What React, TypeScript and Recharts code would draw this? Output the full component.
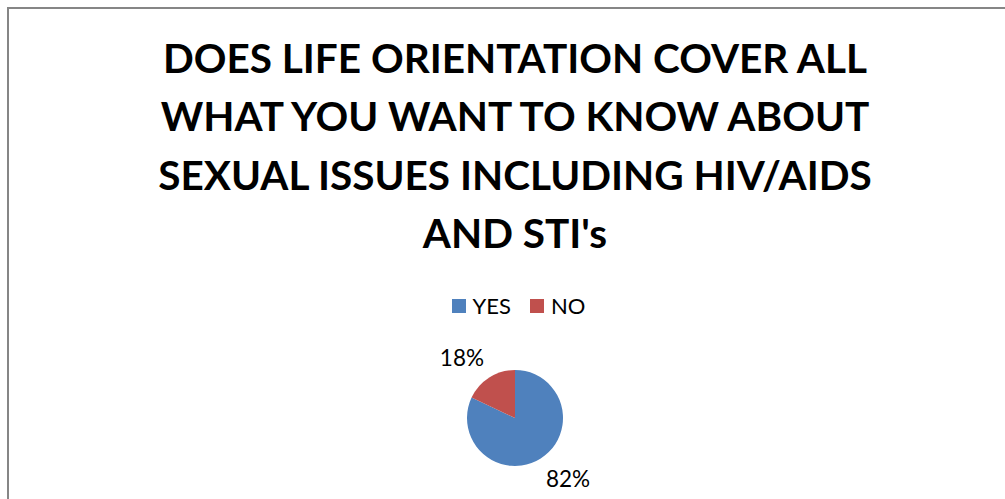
import React from 'react';
import { PieChart, Pie, Cell, Legend } from 'recharts';

const TITLE_LINES = [
  'DOES LIFE ORIENTATION COVER ALL',
  'WHAT YOU WANT TO KNOW ABOUT',
  'SEXUAL ISSUES INCLUDING HIV/AIDS',
  "AND STI's",
];

const CATEGORIES = ['YES', 'NO'];
const VALUES = [82, 18];
const COLORS = ['#4F81BD', '#C0504D'];

const data = CATEGORIES.map((name, i) => ({ name, value: VALUES[i] }));

const RADIAN = Math.PI / 180;

const renderLabel = ({ cx, cy, midAngle, outerRadius, percent }: any) => {
  const cos = Math.cos(-midAngle * RADIAN);
  const sin = Math.sin(-midAngle * RADIAN);
  const r = outerRadius + 10;
  // label box sits outside the slice edge, like Excel's best fit
  const x = cx + r * cos + (cos >= 0 ? 22 : -22);
  const y = cy + r * sin + (sin >= 0 ? 12 : -12);
  return (
    <text x={x} y={y} fill="#000" textAnchor="middle" dominantBaseline="central"
      style={{ fontFamily: 'Lato', fontSize: 22.5 }}>
      {`${Math.round(percent * 100)}%`}
    </text>
  );
};

const LegendContent = ({ payload }: any) => {
  const items = [...(payload || [])].sort(
    (a: any, b: any) => CATEGORIES.indexOf(a.value) - CATEGORIES.indexOf(b.value)
  );
  return (
    <div style={{ display: 'flex', justifyContent: 'center', alignItems: 'center', fontFamily: 'Lato', fontSize: 22, color: '#000' }}>
      {items.map((p: any, i: number) => (
        <div key={i} style={{ display: 'flex', alignItems: 'center', marginLeft: i ? 19 : 0 }}>
          <span style={{ display: 'inline-block', width: 14, height: 14, background: p.color, marginRight: 7 }} />
          <span>{p.value}</span>
        </div>
      ))}
    </div>
  );
};

const App = () => {
  return (
    <div style={{ position: 'absolute', left: 0, top: 0, width: 1005, height: 499, overflow: 'hidden', background: '#fff' }}>
      <div style={{ position: 'absolute', left: 7, top: 7, width: 1100, height: 600, borderLeft: '2px solid #868686', borderTop: '2px solid #868686' }} />
      <svg width={1005} height={270} style={{ position: 'absolute', left: 0, top: 0 }}>
        {TITLE_LINES.map((line, i) => (
          <text key={i} x={515} y={72.5 + i * 58.5} textAnchor="middle" fill="#000"
            style={{ fontFamily: 'Lato', fontWeight: 700, fontSize: 40.5 }}>
            {line}
          </text>
        ))}
      </svg>
      <div style={{ position: 'absolute', left: 0, top: 0 }}>
        <PieChart width={1005} height={499} margin={{ top: 0, right: 0, bottom: 0, left: 0 }}>
          <Legend verticalAlign="middle" content={<LegendContent />}
            wrapperStyle={{ top: 292, left: 16, width: 1005 }} />
          <Pie
            data={data}
            dataKey="value"
            nameKey="name"
            cx={515}
            cy={418}
            outerRadius={48}
            startAngle={90}
            endAngle={-270}
            stroke="none"
            labelLine={false}
            label={renderLabel}
            isAnimationActive={false}
          >
            {data.map((entry, index) => (
              <Cell key={`cell-${index}`} fill={COLORS[index % COLORS.length]} />
            ))}
          </Pie>
        </PieChart>
      </div>
    </div>
  );
};

export default App;
